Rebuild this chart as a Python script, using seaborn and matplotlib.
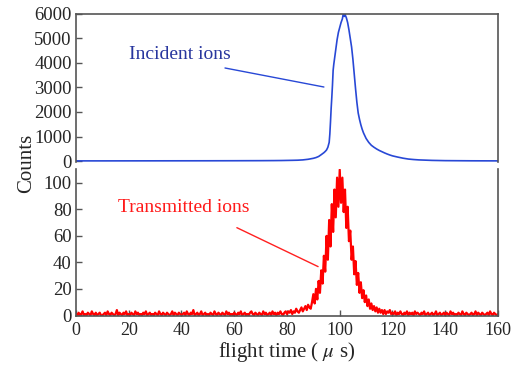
import numpy as np
import pandas as pd
import matplotlib
matplotlib.use("Agg")
import matplotlib.pyplot as plt
import seaborn as sns

# ---- data: incident ions (blue, top panel) ----
inc_time = [0, 10, 20, 30, 40, 50, 60, 70, 75, 78, 80, 82, 84, 86, 88, 90, 91, 92, 93,
            93.5, 94, 94.5, 95, 95.5, 96, 96.25, 96.5, 96.75, 97, 97.25, 97.5, 97.75,
            98, 98.5, 99, 99.5, 100, 100.5, 101, 101.25, 101.5, 101.75, 102, 102.5,
            103, 103.5, 104, 104.5, 105, 105.5, 106, 106.5, 107, 107.5, 108, 108.5,
            109, 110, 111, 112, 113, 114, 115, 116, 117, 118, 119, 120, 122, 124, 126,
            128, 130, 135, 140, 150, 160]
inc_counts = [5, 5, 6, 7, 8, 9, 11, 14, 17, 20, 24, 28, 33, 45, 70, 110, 140, 185, 260,
              300, 340, 390, 450, 560, 760, 1100, 1600, 2150, 2600, 3100, 3700, 3950,
              4150, 4550, 4950, 5250, 5450, 5650, 5800, 5950, 6050, 5900, 5980, 5850,
              5650, 5350, 5000, 4650, 4150, 3550, 2950, 2400, 1960, 1700, 1480, 1300,
              1150, 920, 760, 640, 560, 490, 430, 380, 330, 285, 245, 210, 160, 115, 80,
              60, 45, 25, 15, 8, 5]

# ---- data: transmitted ions (red, bottom panel), 0.5 us bins from 0 to 160 ----
trans_counts = [
    1, 0, 2, 0, 1, 3, 0, 1, 0, 2, 1, 0, 3, 1, 0, 2, 0, 1, 2, 0,      # 0-10
    0, 1, 2, 0, 3, 1, 0, 2, 1, 0, 1, 4, 0, 2, 1, 0, 2, 1, 3, 0,      # 10-20
    1, 0, 2, 1, 0, 3, 1, 2, 0, 1, 0, 2, 1, 3, 0, 1, 2, 0, 1, 0,      # 20-30
    2, 1, 0, 3, 1, 0, 2, 1, 0, 2, 1, 0, 1, 3, 0, 2, 1, 0, 2, 1,      # 30-40
    0, 1, 2, 0, 3, 1, 0, 2, 1, 4, 0, 1, 2, 0, 1, 3, 0, 1, 2, 0,      # 40-50
    1, 0, 2, 1, 0, 3, 1, 0, 2, 1, 0, 2, 1, 0, 3, 1, 2, 0, 1, 0,      # 50-60
    2, 1, 0, 2, 1, 3, 0, 1, 2, 0, 1, 0, 2, 3, 1, 0, 2, 1, 0, 2,      # 60-70
    1, 0, 3, 1, 2, 0, 1, 2, 0, 3, 1, 2, 0, 2, 1, 3, 1, 0, 2, 3,      # 70-80
    1, 3, 2, 4, 1, 3, 2, 5, 3, 2, 4, 6, 3, 5, 7, 4, 8, 6, 5, 10,     # 80-90
    16, 9, 20, 12, 26, 17, 34, 24, 45, 33,                           # 90-95
    60, 42, 72, 52, 84, 63, 95, 74, 104, 82,                         # 95-100
    110, 85, 104, 78, 95, 66, 82, 56, 64, 42,                        # 100-105
    52, 31, 41, 23, 32, 17, 25, 13, 19, 10,                          # 105-110
    15, 7, 12, 5, 9, 4, 7, 3, 6, 2,                                  # 110-115
    5, 2, 4, 1, 4, 1, 3, 2, 4, 1,                                    # 115-120
    2, 1, 3, 0, 2, 1, 3, 1, 0, 2, 1, 3, 0, 2, 1, 2, 0, 3, 1, 2,      # 120-130
    1, 0, 2, 1, 3, 0, 1, 2, 0, 1, 2, 0, 1, 3, 0, 1, 2, 0, 1, 2,      # 130-140
    0, 2, 1, 0, 3, 1, 2, 0, 1, 0, 2, 1, 0, 3, 1, 0, 2, 1, 0, 1,      # 140-150
    2, 0, 1, 3, 0, 2, 1, 0, 2, 1, 0, 1, 2, 0, 3, 1, 0, 2, 1, 0,      # 150-160
    1]
trans_time = np.arange(len(trans_counts)) * 0.5

x_ticks = [0, 20, 40, 60, 80, 100, 120, 140, 160]
top_yticks = [0, 1000, 2000, 3000, 4000, 5000, 6000]
bot_yticks = [0, 20, 40, 60, 80, 100]

df_inc = pd.DataFrame({"t": inc_time, "c": inc_counts})
df_tr = pd.DataFrame({"t": trans_time, "c": trans_counts})

sns.set_theme(style="white")
plt.rcParams["font.family"] = ["Liberation Serif", "DejaVu Serif"]
plt.rcParams["mathtext.fontset"] = "stix"

fig = plt.figure(figsize=(5.11, 3.70), dpi=100)
ax1 = fig.add_axes([0.1487, 0.5622, 0.8258, 0.4000])
ax2 = fig.add_axes([0.1487, 0.1459, 0.8258, 0.3973])

spine_col = "#555555"

sns.lineplot(data=df_inc, x="t", y="c", ax=ax1, color="#2848d6", lw=1.2, estimator=None)
sns.lineplot(data=df_tr, x="t", y="c", ax=ax2, color="#ff0000", lw=1.6, estimator=None)

for ax in (ax1, ax2):
    ax.set_xlim(0, 160)
    ax.set_xlabel("")
    ax.set_ylabel("")
    for s in ax.spines.values():
        s.set_color(spine_col)
        s.set_linewidth(1.2)
    ax.tick_params(direction="in", length=4, width=1, color=spine_col, pad=3)
    ax.tick_params(axis="y", labelsize=13.5)
    ax.tick_params(axis="x", labelsize=13)

ax1.set_ylim(-40, 6000)
ax1.set_yticks(top_yticks)
ax1.set_xticks([])
ax1.spines["bottom"].set_visible(False)
ax1.tick_params(axis="y", left=True, right=False)

ax2.set_ylim(-0.5, 110.5)
ax2.set_yticks(bot_yticks)
ax2.set_xticks(x_ticks)
ax2.spines["top"].set_visible(False)
ax2.tick_params(axis="x", bottom=True, top=False, pad=4)
ax2.tick_params(axis="y", left=True, right=False)

ax2.set_xlabel("flight time ( $\\mu$ s)", fontsize=15, labelpad=1)
fig.text(27 / 511, 1 - 163 / 370, "Counts", rotation=90, fontsize=15,
         ha="center", va="center")

# labels with leader lines
ax1.text(39.4, 4330, "Incident ions", fontsize=14, color="#28369e",
         ha="center", va="center")
ax1.annotate("", xy=(94.0, 3020), xytext=(56.5, 3796),
             arrowprops=dict(arrowstyle="-", color="#2848d6", lw=1.0,
                             shrinkA=0, shrinkB=0))
ax2.text(40.9, 81.2, "Transmitted ions", fontsize=14, color="#ff1a1a",
         ha="center", va="center")
ax2.annotate("", xy=(91.8, 36.8), xytext=(61.0, 66.2),
             arrowprops=dict(arrowstyle="-", color="#ff2020", lw=1.0,
                             shrinkA=0, shrinkB=0))

fig.savefig("out.png", dpi=100)
